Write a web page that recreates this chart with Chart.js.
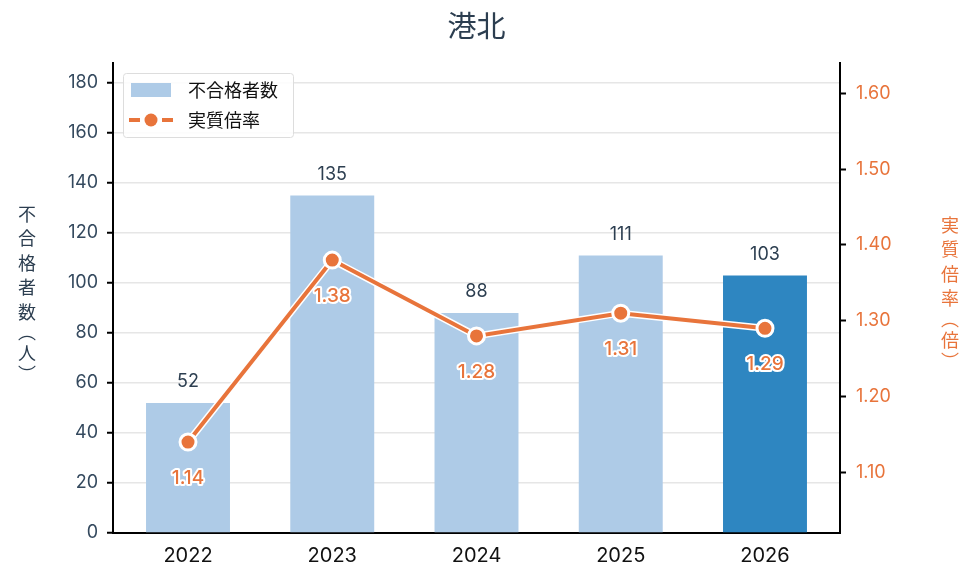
<!DOCTYPE html>
<html>
<head>
<meta charset="utf-8">
<script src="https://cdn.jsdelivr.net/npm/chart.js@4/dist/chart.umd.min.js"></script>
<style>
html,body{margin:0;padding:0;background:#fff;}
#wrap{width:975px;height:584px;}
</style>
</head>
<body>
<div id="wrap"><canvas id="c" width="975" height="584"></canvas></div>
<script>
const chartTitle = '港北';
const categories = ['2022', '2023', '2024', '2025', '2026'];
const failCounts = [52, 135, 88, 111, 103];
const actualRatios = [1.14, 1.38, 1.28, 1.31, 1.29];
const leftTicks = [0, 20, 40, 60, 80, 100, 120, 140, 160, 180];
const rightTicks = [1.10, 1.20, 1.30, 1.40, 1.50, 1.60];
const barLabel = '不合格者数';
const lineLabel = '実質倍率';
const leftAxisTitle = '不合格者数︵人︶';
const rightAxisTitle = '実質倍率︵倍︶';

const CJK = "'Noto Sans CJK JP', sans-serif";
const NUM = "Inter, 'Noto Sans CJK JP', sans-serif";
const BAR_LIGHT = '#aecbe7';
const BAR_DARK = '#2e86c1';
const ORANGE = '#e8743b';
const SLATE = '#2c3e50';

const barColors = categories.map((c, i) => i === categories.length - 1 ? BAR_DARK : BAR_LIGHT);

const overlay = {
  id: 'overlay',
  afterDatasetsDraw(chart) {
    const ctx = chart.ctx;
    const barMeta = chart.getDatasetMeta(0);
    ctx.save();
    ctx.font = '18px ' + NUM;
    ctx.fillStyle = SLATE;
    ctx.textAlign = 'center';
    ctx.textBaseline = 'middle';
    barMeta.data.forEach((el, i) => {
      ctx.fillText(String(failCounts[i]), el.x, el.y - 21);
    });
    const lineMeta = chart.getDatasetMeta(2);
    ctx.font = '500 19px ' + NUM;
    ctx.lineJoin = 'round';
    lineMeta.data.forEach((el, i) => {
      const t = actualRatios[i].toFixed(2);
      ctx.strokeStyle = '#fff';
      ctx.lineWidth = 4;
      ctx.strokeText(t, el.x, el.y + 36);
      ctx.fillStyle = ORANGE;
      ctx.fillText(t, el.x, el.y + 36);
    });
    ctx.restore();
  },
  afterDraw(chart) {
    const ctx = chart.ctx;
    const area = chart.chartArea;
    ctx.save();
    // title centred over the plot area
    ctx.font = '29px ' + CJK;
    ctx.fillStyle = SLATE;
    ctx.textAlign = 'center';
    ctx.textBaseline = 'middle';
    ctx.fillText(chartTitle, (area.left + area.right) / 2, 26);

    function vtext(str, x, yCenter, color) {
      ctx.font = '18px ' + CJK;
      ctx.fillStyle = color;
      ctx.textAlign = 'center';
      ctx.textBaseline = 'middle';
      const chars = Array.from(str);
      const adv = chars.map(ch => (ch === '︵' || ch === '︶') ? 17 : 24.5);
      const total = adv.reduce((a, b) => a + b, 0);
      let y = yCenter - total / 2;
      chars.forEach((ch, i) => {
        ctx.fillText(ch, x, y + adv[i] / 2);
        y += adv[i];
      });
    }
    vtext(leftAxisTitle, 27, 292, SLATE);
    vtext(rightAxisTitle, 950, 291, ORANGE);

    const lx = 123, ly = 73, lw = 170, lh = 64;
    ctx.fillStyle = 'rgba(255,255,255,0.85)';
    ctx.strokeStyle = '#dddddd';
    ctx.lineWidth = 1;
    ctx.beginPath();
    if (ctx.roundRect) ctx.roundRect(lx + 0.5, ly + 0.5, lw, lh, 3); else ctx.rect(lx + 0.5, ly + 0.5, lw, lh);
    ctx.fill();
    ctx.stroke();
    ctx.fillStyle = BAR_LIGHT;
    ctx.fillRect(131, 83, 40, 14);
    ctx.strokeStyle = ORANGE;
    ctx.lineWidth = 4;
    ctx.beginPath(); ctx.moveTo(129, 120); ctx.lineTo(140, 120); ctx.stroke();
    ctx.beginPath(); ctx.moveTo(162, 120); ctx.lineTo(173, 120); ctx.stroke();
    ctx.fillStyle = ORANGE;
    ctx.beginPath(); ctx.arc(151, 120, 6.5, 0, Math.PI * 2); ctx.fill();
    ctx.font = '18px ' + CJK;
    ctx.fillStyle = '#111';
    ctx.textAlign = 'left';
    ctx.textBaseline = 'middle';
    ctx.fillText(barLabel, 188, 90);
    ctx.fillText(lineLabel, 188, 120);
    ctx.restore();
  }
};

new Chart(document.getElementById('c'), {
  data: {
    labels: categories,
    datasets: [
      {
        type: 'bar',
        label: barLabel,
        data: failCounts,
        backgroundColor: barColors,
        yAxisID: 'y',
        barPercentage: 0.582,
        categoryPercentage: 1.0,
        order: 3
      },
      {
        type: 'line',
        label: lineLabel + '_outline',
        data: actualRatios,
        borderColor: '#ffffff',
        borderWidth: 7,
        pointRadius: 0,
        yAxisID: 'y1',
        order: 2
      },
      {
        type: 'line',
        label: lineLabel,
        data: actualRatios,
        borderColor: ORANGE,
        borderWidth: 4,
        pointRadius: 8,
        pointBackgroundColor: ORANGE,
        pointBorderColor: '#ffffff',
        pointBorderWidth: 3,
        yAxisID: 'y1',
        order: 1
      }
    ]
  },
  options: {
    responsive: false,
    animation: false,
    devicePixelRatio: 1,
    layout: { padding: { left: 0, right: 0, top: 63, bottom: 0 } },
    plugins: {
      legend: { display: false },
      tooltip: { enabled: false },
      title: { display: false }
    },
    scales: {
      x: {
        grid: { display: false, drawOnChartArea: false, drawTicks: true, tickLength: 6, tickColor: '#000', tickWidth: 2 },
        border: { display: true, color: '#000', width: 2 },
        ticks: { color: '#111', font: { family: NUM, size: 20 }, padding: 5 },
        afterFit(s) { s.height = 51; },
        afterUpdate(s) {
          s._startValue = -0.52;
          s._valueRange = categories.length + 0.04;
        }
      },
      y: {
        position: 'left',
        min: 0,
        max: 188,
        afterBuildTicks(s) { s.ticks = leftTicks.map(v => ({ value: v })); },
        grid: { color: '#e6e6e6', lineWidth: 1.5, tickLength: 6, tickColor: '#000', tickWidth: 2 },
        border: { display: true, color: '#000', width: 2 },
        ticks: { color: '#34495e', font: { family: NUM, size: 18 }, padding: 9 },
        afterFit(s) { s.width = 113; }
      },
      y1: {
        position: 'right',
        min: 1.02,
        max: 1.64,
        afterBuildTicks(s) { s.ticks = rightTicks.map(v => ({ value: v })); },
        grid: { drawOnChartArea: false, tickLength: 6, tickColor: '#000', tickWidth: 2 },
        border: { display: true, color: '#000', width: 2 },
        ticks: { color: ORANGE, font: { family: NUM, size: 18 }, padding: 10, callback: v => Number(v).toFixed(2) },
        afterFit(s) { s.width = 135; }
      }
    }
  },
  plugins: [overlay]
});
</script>
</body>
</html>
